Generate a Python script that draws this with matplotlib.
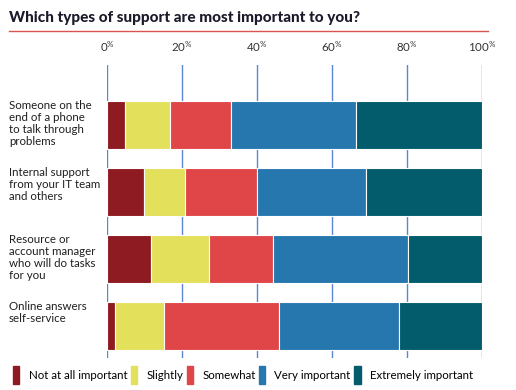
import matplotlib
matplotlib.use("Agg")
import matplotlib.pyplot as plt
from matplotlib.patches import Rectangle
from matplotlib.lines import Line2D
import numpy as np

categories = [
    "Someone on the\nend of a phone\nto talk through\nproblems",
    "Internal support\nfrom your IT team\nand others",
    "Resource or\naccount manager\nwho will do tasks\nfor you",
    "Online answers\nself-service",
]
series_names = ["Not at all important", "Slightly", "Somewhat", "Very important", "Extremely important"]
not_at_all = [4.9, 9.8, 11.8, 2.0]
slightly = [11.8, 11.0, 15.3, 13.3]
somewhat = [16.4, 19.2, 17.1, 30.5]
very = [33.2, 29.0, 36.1, 32.0]
extremely = [33.7, 31.0, 19.7, 22.2]
tick_values = [0, 20, 40, 60, 80, 100]

colors = ["#8E1B22", "#E3E05C", "#E04648", "#2677AE", "#025C6C"]
series = [not_at_all, slightly, somewhat, very, extremely]

plt.rcParams['font.family'] = ['Lato', 'DejaVu Sans']
plt.rcParams['mathtext.default'] = 'regular'

W, H = 516, 390
fig = plt.figure(figsize=(W/100, H/100), dpi=100)
ax = fig.add_axes([107/W, 1-358/H, (482-107)/W, (358-65)/H])

y = np.arange(len(categories))
left = np.zeros(len(categories))
for name, vals, c in zip(series_names, series, colors):
    ax.barh(y, vals, left=left, height=0.716, color=c, edgecolor='white', linewidth=0.8, zorder=3, label=name)
    left += np.array(vals)

ax.set_xlim(0, 100)
ax.set_ylim(3 + 32/67, -60/67)
for v in tick_values:
    ax.axvline(v, color='#5B86D6', lw=1.0, zorder=1)
for s in ax.spines.values():
    s.set_visible(False)
ax.set_xticks([]); ax.set_yticks([])

# tick labels
for v in tick_values:
    ax.text(v, -60/67 - 0.28, r"%d$^{\%%}$" % v, ha='center', va='center', fontsize=8.3, color='#333333', zorder=5)

# category labels
for yi, cat in zip(y, categories):
    fig.text(9/W, 1 - (125 + (yi)*67 - 25)/H, cat, ha='left', va='top', fontsize=8.3, color='#1f1f1f', linespacing=1.12)

# title
fig.text(9/W, 1-18/H, "Which types of support are most important to you?", ha='left', va='center',
         fontsize=11, fontweight='black', color='#1a1a2a')
fig.add_artist(Line2D([9/W, 488/W], [1-31/H, 1-31/H], color='#D9534F', lw=1, transform=fig.transFigure))

handles = [Rectangle((0, 0), 1, 1, color=c) for c in colors]
fig.legend(handles, series_names, loc='center left', bbox_to_anchor=(13/W, 1-375/H), ncol=5, frameon=False,
           fontsize=8.3, handlelength=0.55, handleheight=1.9, handletextpad=0.8, columnspacing=0.3,
           borderaxespad=0, borderpad=0)

fig.savefig("out.png", dpi=100)
